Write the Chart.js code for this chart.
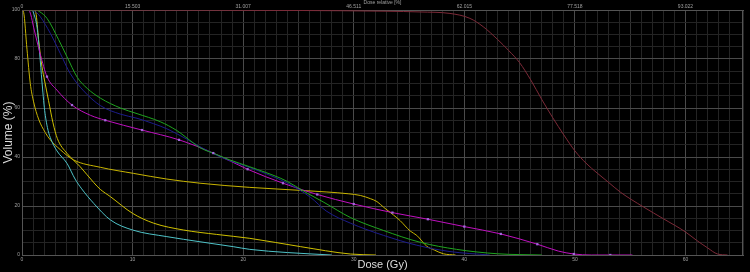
<!DOCTYPE html>
<html>
<head>
<meta charset="utf-8">
<script src="https://cdn.jsdelivr.net/npm/chart.js@4/dist/chart.umd.min.js"></script>
<style>
  html, body { margin: 0; padding: 0; background: #000; }
  canvas { display: block; }
</style>
</head>
<body>
<canvas id="Chart" width="750" height="272"></canvas>
<script>
const ctx = document.getElementById("Chart");

// axis range and tick labels
const doseMax = 65.2;
const doseLabels = ["0", "10", "20", "30", "40", "50", "60"];
const relLabels = ["0", "15.503", "31.007", "46.511", "62.015", "77.518", "93.022"];
const volLabels = ["0", "20", "40", "60", "80", "100"];

// DVH curves (dose Gy / volume %)
const ptvDose = [0, 25, 33, 36, 38.7, 40.5, 41.7, 43, 44, 45, 46, 47, 48, 49, 50, 51, 52, 53, 54.1, 56.2, 58, 60, 61, 62, 62.9, 63.8];
const ptvVol = [100, 99.8, 99.5, 99.2, 98.6, 96.6, 93.2, 88, 83.5, 78.5, 71.5, 63.5, 56, 49, 42.5, 37.5, 33.5, 29.8, 25.7, 19.6, 14.8, 9.4, 6, 2.9, 0.4, 0];

const greenDose = [0, 1.2, 1.6, 2.26, 3.3, 4.06, 5, 5.9, 7.1, 8.9, 10.4, 12.5, 14, 15.5, 16.1, 17.6, 18.8, 20.6, 23.4, 24, 25.8, 27.3, 29.7, 32.7, 36, 39.3, 43, 47];
const greenVol = [100, 100, 99.3, 96.6, 88, 81, 72.5, 68, 64, 60, 57.7, 54.4, 50.8, 45.7, 43.8, 41, 38.8, 36, 31.3, 30, 25.2, 21.5, 15.3, 10, 5.2, 2.3, 0.5, 0];

const blueDose = [0, 0.9, 1.3, 1.65, 2.56, 3.46, 4.37, 5.57, 7.08, 8.9, 10.4, 11.9, 13.1, 14.9, 16.1, 17.9, 19.1, 20.9, 24, 26.1, 27.5, 29.7, 32.7, 35.7, 38.7, 42.3];
const blueVol = [100, 100, 99, 97.3, 90.5, 82.3, 74, 67, 61, 57.5, 55.8, 53.6, 51.5, 47.3, 44.2, 40.1, 38, 35.2, 29.3, 23.5, 18, 13, 8, 4, 1.4, 0];

const magentaDose = [0, 0.6, 0.8, 1.05, 1.65, 2.26, 3.16, 4.52, 6.2, 7.53, 10.85, 14.2, 17.3, 20.4, 23.6, 26.7, 30, 33.5, 36.7, 40, 43.3, 46.6, 48.5, 49.9, 51.5, 55.2];
const magentaVol = [100, 100, 98, 93, 82, 72.8, 67.3, 61.2, 57, 55, 51, 47, 41.6, 35, 29.3, 24.7, 20.8, 17.3, 14.6, 11.6, 8.6, 4.4, 1.6, 0.4, 0, 0];
const markDose = [2.26, 4.52, 7.53, 10.85, 14.2, 17.3, 20.4, 23.6, 26.7, 30, 33.5, 36.7, 40, 43.3, 46.6, 49.9, 53.2];
const markVol = [72.8, 61.2, 55, 51, 47, 41.6, 35, 29.3, 24.7, 20.8, 17.3, 14.6, 11.6, 8.6, 4.4, 0.4, 0];

const cyanDose = [0, 0.9, 1.1, 1.36, 1.6, 1.8, 2.05, 2.3, 2.55, 3.16, 4.07, 4.8, 5.4, 6.5, 8, 10, 13.1, 16.1, 19.1, 20.6, 24, 28];
const cyanVol = [100, 100, 98, 93, 82, 71, 59, 52, 48, 42.5, 37.4, 31, 27, 21, 14.3, 10.2, 7.5, 5.4, 3.4, 2.3, 1, 0];

const yellow1Dose = [0, 0.15, 0.45, 0.75, 1.05, 1.5, 2.1, 2.56, 3.46, 4.67, 7.08, 10.1, 13.1, 16.1, 20.6, 25.5, 29.5, 30.6, 31.5, 32.1, 32.7, 33.6, 34.2, 35.1, 35.7, 36.6, 37.3, 38.1, 39.2];
const yellow1Vol = [100, 99, 84, 70, 62.5, 55.5, 50, 47, 43, 38.8, 35.8, 33.3, 31, 29.3, 27.6, 26.3, 25, 24.3, 23, 21.8, 19.5, 16.3, 14, 9.8, 8, 3.6, 2, 0.5, 0];

const yellow2Dose = [0, 1.1, 1.25, 1.5, 1.8, 2.05, 2.4, 2.8, 3.2, 4.07, 5.27, 6.5, 7.08, 8, 10, 11.9, 14.6, 17.6, 20.6, 25.2, 29.7, 32];
const yellow2Vol = [100, 100, 99, 88, 77, 71, 63, 54, 47.5, 41.5, 36, 29.5, 26.8, 23.8, 17, 13, 10.2, 8.4, 6.8, 3.4, 0.4, 0];

function pts(xs, ys) {
  return xs.map((x, i) => ({ x: x, y: ys[i] }));
}

function curve(label, xs, ys, color) {
  return {
    label: label,
    data: pts(xs, ys),
    borderColor: color,
    borderWidth: 1,
    pointRadius: 0,
    fill: false,
    cubicInterpolationMode: "monotone",
  };
}

function near(v, step) {
  return Math.abs(v - Math.round(v / step) * step) < 1e-6;
}

// draws the right edge of the plot frame
const frame = {
  id: "frame",
  beforeDatasetsDraw(chart) {
    const a = chart.chartArea;
    const c = chart.ctx;
    c.save();
    c.strokeStyle = "#555";
    c.lineWidth = 1;
    c.beginPath();
    c.moveTo(a.right - 0.5, a.top);
    c.lineTo(a.right - 0.5, a.bottom);
    c.stroke();
    c.restore();
  },
};

const tickFont = { family: "Liberation Sans", size: 5 };

const chart = new Chart(ctx, {
  type: "line",
  data: {
    datasets: [
      {
        label: "marks",
        data: pts(markDose, markVol),
        showLine: false,
        pointStyle: "rect",
        pointRadius: 1.6,
        pointBackgroundColor: "#a268dc",
        pointBorderColor: "#a268dc",
        pointBorderWidth: 0,
      },
      curve("PTV", ptvDose, ptvVol, "#7d2a38"),
      curve("green", greenDose, greenVol, "#1fa51f"),
      curve("blue", blueDose, blueVol, "#1c1c8c"),
      curve("magenta", magentaDose, magentaVol, "#c010c0"),
      curve("cyan", cyanDose, cyanVol, "#4fc3c8"),
      curve("yellow1", yellow1Dose, yellow1Vol, "#c8b400"),
      curve("yellow2", yellow2Dose, yellow2Vol, "#cfc000"),
    ],
  },
  options: {
    responsive: false,
    animation: false,
    layout: { padding: { right: 7 } },
    plugins: { legend: { display: false }, tooltip: { enabled: false } },
    scales: {
      x: {
        type: "linear",
        position: "bottom",
        min: 0,
        max: doseMax,
        afterFit: (s) => { s.height = 17; },
        ticks: {
          stepSize: 1,
          autoSkip: false,
          maxRotation: 0,
          padding: 2,
          color: "#a0a0a0",
          font: tickFont,
          callback: (v) => (near(v, 10) ? doseLabels[Math.round(v / 10)] : ""),
        },
        grid: {
          drawTicks: false,
          color: (c) => {
            const v = c.tick.value;
            if (near(v, 10)) return "#4a4a4a";
            if (near(v, 5)) return "#343434";
            return "#242424";
          },
        },
        border: { color: "#555" },
        title: {
          display: true,
          text: "Dose (Gy)",
          color: "#dcdcdc",
          font: { family: "Liberation Sans", size: 11, lineHeight: 1 },
          padding: { top: 0, bottom: 2 },
        },
      },
      x2: {
        type: "linear",
        position: "top",
        min: 0,
        max: doseMax,
        afterFit: (s) => { s.height = 10; },
        ticks: {
          stepSize: 10,
          autoSkip: false,
          maxRotation: 0,
          padding: 0,
          color: "#a0a0a0",
          font: tickFont,
          callback: (v) => (near(v, 10) ? relLabels[Math.round(v / 10)] : ""),
        },
        grid: { drawOnChartArea: false, drawTicks: false },
        border: { color: "#555" },
        title: {
          display: true,
          text: "Dose relative [%]",
          color: "#a0a0a0",
          font: { family: "Liberation Sans", size: 5, lineHeight: 1 },
          padding: { top: 0, bottom: 0 },
        },
      },
      y: {
        min: 0,
        max: 100,
        afterFit: (s) => { s.width = 22; },
        ticks: {
          stepSize: 5,
          autoSkip: false,
          padding: 2,
          color: "#a0a0a0",
          font: tickFont,
          callback: (v) => (near(v, 20) ? volLabels[Math.round(v / 20)] : ""),
        },
        grid: {
          drawTicks: false,
          color: (c) => (near(c.tick.value, 20) ? "#4a4a4a" : "#242424"),
        },
        border: { color: "#555" },
        title: {
          display: true,
          text: "Volume (%)",
          color: "#dcdcdc",
          font: { family: "Liberation Sans", size: 12, lineHeight: 1 },
          padding: { top: 3, bottom: 0 },
        },
      },
    },
  },
  plugins: [frame],
});
</script>
</body>
</html>
